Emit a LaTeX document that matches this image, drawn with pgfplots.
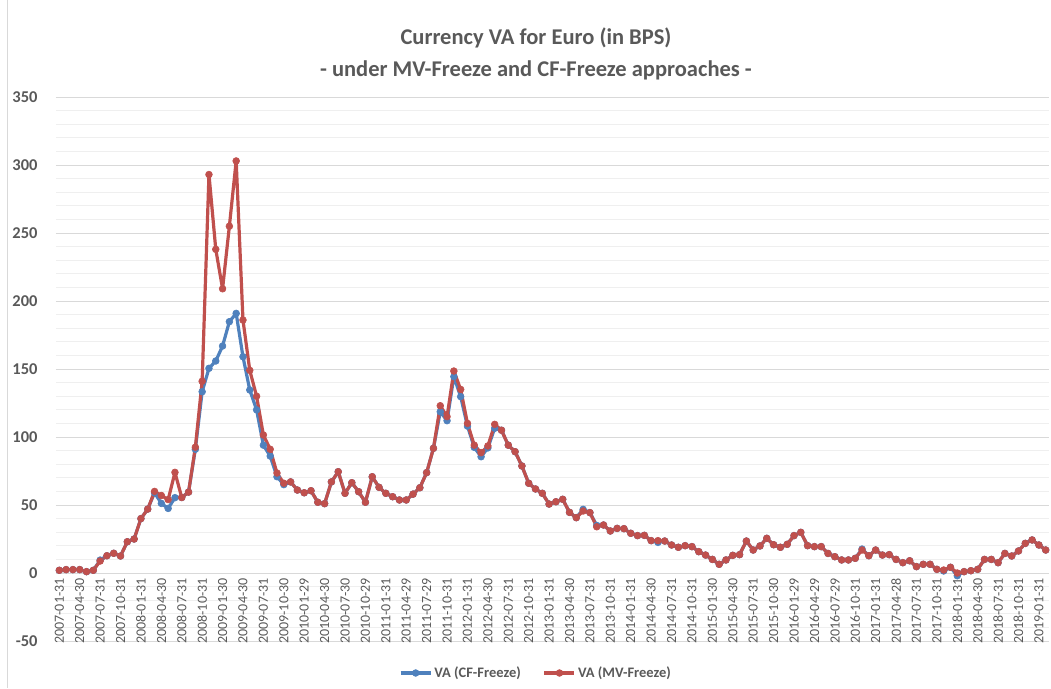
\documentclass[border=0pt]{standalone}
\usepackage{fontspec}
\setmainfont{Carlito}
\usepackage{pgfplots}
\pgfplotsset{compat=1.18}
\usepackage{pgfplotstable}

\definecolor{vablue}{HTML}{4F81BD}
\definecolor{vared}{HTML}{C0504D}
\definecolor{txtgray}{HTML}{595959}
\definecolor{gridmaj}{HTML}{D9D9D9}
\definecolor{gridmin}{HTML}{EFEFEF}

% monthly values, idx 0 = 2007-01-31 ... idx 145 = 2019-02-28
\pgfplotstableread{
idx cf mv
0 2 2
1 2.5 2.5
2 2.5 2.5
3 2.5 2.5
4 1 1
5 2 2
6 9.5 8.8
7 12.7 12.7
8 14.5 14.5
9 12.5 12.5
10 23 23
11 25 25
12 40 40
13 47 47
14 59 60
15 51.2 57
16 47.5 54
17 55.4 74
18 55.5 55.5
19 59.5 59.5
20 91 92.5
21 133.3 141
22 150.5 293
23 155.9 238
24 166.9 209
25 184.8 255
26 190.9 303
27 159 186
28 134.6 149
29 120 130
30 94 101.5
31 86 91
32 70.8 73.5
33 65 66
34 67 67
35 61 61
36 59 59
37 60.5 60.5
38 52 52
39 51 51
40 67 67
41 74.5 74.5
42 58.6 58.6
43 66.4 66.4
44 59.8 59.8
45 52 52
46 70.8 70.8
47 63 63
48 58.6 58.6
49 56.1 56.1
50 53.7 53.7
51 53.7 53.7
52 58 58
53 62.7 62.7
54 73.8 73.8
55 91.7 91.7
56 118.6 123
57 112 115
58 144.4 148.5
59 129.7 135
60 108 110
61 92.4 94
62 85.5 88.5
63 92 93.4
64 106.4 109.3
65 105 105
66 94 94
67 89.2 89.2
68 78.7 78.7
69 66 66
70 61.8 61.8
71 58.6 58.6
72 50.7 50.7
73 52.4 52.4
74 54.2 54.2
75 44.6 44.6
76 40.7 40.7
77 46.8 45.6
78 44.4 44.4
79 35 34
80 35.3 35.3
81 30.9 30.9
82 32.8 32.8
83 32.6 32.6
84 29.2 29.2
85 27.5 27.5
86 27.7 27.7
87 23.8 23.8
88 22.5 23.8
89 23.5 23.5
90 20.6 20.6
91 18.9 18.9
92 20.1 20.1
93 19.4 19.4
94 15.7 15.7
95 13.2 13.2
96 10 10
97 6.4 6.4
98 9.6 9.6
99 13 13
100 13.5 13.5
101 23.5 23.5
102 16.9 16.9
103 19.9 19.9
104 25.5 25.5
105 20.8 20.8
106 18.9 18.9
107 21.1 21.1
108 27.5 27.5
109 29.9 29.9
110 20.1 20.1
111 19.4 19.4
112 19.4 19.4
113 14.4 14.4
114 12 12
115 9.6 9.6
116 9.6 9.6
117 10.8 10.8
118 17.6 16.9
119 12.7 12.7
120 16.9 16.9
121 13.2 13.2
122 13.5 13.5
123 10 10
124 7.6 7.6
125 9 9
126 4.7 4.7
127 6.4 6.4
128 6.4 6.4
129 2.7 2.7
130 1.5 2.2
131 4.2 4.2
132 -2 0
133 1 1
134 1.7 1.7
135 2.7 2.7
136 10 10
137 10 10
138 7.6 7.6
139 14.4 14.4
140 12.5 12.5
141 16.2 16.2
142 21.8 21.8
143 24.3 24.3
144 20.6 20.6
145 16.9 16.9
}\vadata

\begin{document}
\begin{tikzpicture}
\useasboundingbox (0,0) rectangle (1051pt,-688pt);
\draw[gridmaj, line width=0.8pt] (7pt,0pt) -- (7pt,-688pt);
\node[font=\fontsize{22.5}{26}\selectfont\bfseries, text=txtgray] at (536pt,-38pt) {Currency VA for Euro (in BPS)};
\node[font=\fontsize{22.5}{26}\selectfont\bfseries, text=txtgray] at (536pt,-70pt) {- under MV-Freeze and CF-Freeze approaches -};
\begin{axis}[
  at={(55.9pt,-641pt)}, anchor=south west,
  width=993.2pt, height=544pt, scale only axis,
  xmin=-0.5, xmax=145.5, ymin=-50, ymax=350,
  axis x line=middle, axis y line=left,
  axis line style={-},
  x axis line style={gridmaj, line width=0.8pt},
  y axis line style={draw=none},
  ytick={-50,0,50,100,150,200,250,300,350},
  minor y tick num=4,
  ymajorgrids, yminorgrids,
  major grid style={gridmaj, line width=0.8pt},
  minor grid style={gridmin, line width=0.8pt},
  tick style={draw=none},
  xtick={0,3,...,144},
  xticklabels={2007-01-31,2007-04-30,2007-07-31,2007-10-31,
    2008-01-31,2008-04-30,2008-07-31,2008-10-31,
    2009-01-30,2009-04-30,2009-07-31,2009-10-30,
    2010-01-29,2010-04-30,2010-07-30,2010-10-29,
    2011-01-31,2011-04-29,2011-07-29,2011-10-31,
    2012-01-31,2012-04-30,2012-07-31,2012-10-31,
    2013-01-31,2013-04-30,2013-07-31,2013-10-31,
    2014-01-31,2014-04-30,2014-07-31,2014-10-31,
    2015-01-30,2015-04-30,2015-07-31,2015-10-30,
    2016-01-29,2016-04-29,2016-07-29,2016-10-31,
    2017-01-31,2017-04-28,2017-07-31,2017-10-31,
    2018-01-31,2018-04-30,2018-07-31,2018-10-31,
    2019-01-31},
  xticklabel style={rotate=90, anchor=east, font=\fontsize{14}{15}\selectfont, text=txtgray, inner sep=3pt},
  yticklabel style={font=\fontsize{16.5}{18}\selectfont\bfseries, text=txtgray, inner sep=3pt, xshift=-13pt},
  /pgf/number format/assume math mode=true,
  legend columns=2,
  legend style={at={(0.4834,-0.0588)}, anchor=center, draw=none, fill=none,
    font=\fontsize{14.5}{16}\selectfont\bfseries, text=txtgray,
    /tikz/every even column/.append style={column sep=20pt}},
  legend image code/.code={
    \draw[mark repeat=2, mark phase=2] plot coordinates {(0pt,0pt) (15pt,0pt) (30pt,0pt)};
  },
]
\addplot[vablue, line width=3.2pt, line join=round, mark=*, mark size=3.4pt,
  mark options={solid, line width=0.6pt}] table[x=idx, y=cf] {\vadata};
\addlegendentry{VA (CF-Freeze)}
\addplot[vared, line width=3.2pt, line join=round, mark=*, mark size=3.4pt,
  mark options={solid, line width=0.6pt}] table[x=idx, y=mv] {\vadata};
\addlegendentry{VA (MV-Freeze)}
\end{axis}
\end{tikzpicture}
\end{document}
